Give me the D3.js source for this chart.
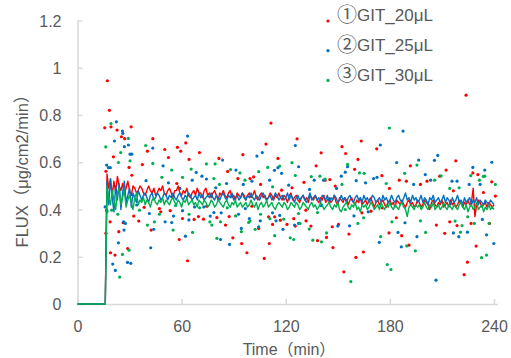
<!DOCTYPE html>
<html>
<head>
<meta charset="utf-8">
<script src="https://cdn.jsdelivr.net/npm/d3@7"></script>
<style>
  body { margin: 0; background: #fff; }
  svg { font-family: "Liberation Sans", Arial, "Noto Sans CJK JP", sans-serif; }
</style>
</head>
<body>
<div id="chart"></div>
<script>
// series names and colours
var seriesMarks = ["①", "②", "③"];
var seriesNames = ["GIT_20μL", "GIT_25μL", "GIT_30μL"];
var seriesColors = ["#ff0000", "#0070c0", "#00b050"];

var xTicks = [0, 60, 120, 180, 240];
var yTicks = [0, 0.2, 0.4, 0.6, 0.8, 1, 1.2];
var yTickLabels = ["0", "0.2", "0.4", "0.6", "0.8", "1", "1.2"];

// line data: one value per minute, t = 17 .. 240 (0 before that)
var lineStart = 17;
var redLine = [
  .55,.49,.53,.46,.52,.47,.54,.50,.48,.51, .47,.49,.52,.48,.46,.50,.49,.47,.48,.50,
  .49,.47,.46,.48,.50,.48,.47,.49,.46,.47, .49,.48,.50,.47,.46,.48,.49,.47,.45,.48,
  .48,.50,.47,.46,.48,.47,.49,.46,.45,.47, .48,.46,.49,.47,.47,.45,.48,.49,.46,.47,
  .45,.47,.48,.46,.44,.47,.46,.48,.46,.45, .47,.48,.45,.46,.44,.47,.46,.45,.47,.46,
  .44,.46,.47,.45,.46,.48,.45,.44,.46,.47, .45,.46,.44,.45,.47,.46,.44,.46,.45,.47,
  .45,.44,.46,.45,.43,.46,.47,.44,.45,.46, .44,.43,.45,.46,.44,.45,.43,.46,.45,.44,
  .46,.44,.43,.45,.44,.46,.43,.44,.45,.43, .44,.46,.43,.42,.45,.44,.43,.45,.44,.42,
  .44,.45,.43,.42,.44,.43,.45,.42,.43,.44, .42,.44,.45,.43,.41,.43,.44,.42,.43,.44,
  .42,.41,.43,.44,.42,.43,.41,.44,.43,.42, .44,.42,.41,.43,.44,.42,.43,.41,.42,.44,
  .43,.41,.42,.44,.43,.42,.40,.43,.44,.42, .41,.43,.42,.44,.41,.42,.43,.41,.44,.42,
  .43,.41,.42,.44,.43,.41,.43,.42,.44,.42, .43,.49,.37,.42,.44,.43,.41,.42,.43,.41,
  .43,.42,.41,.42
];
var blueLine = [
  .52,.42,.53,.45,.39,.50,.44,.51,.40,.47, .52,.43,.46,.49,.41,.47,.45,.43,.48,.46,
  .44,.46,.47,.45,.43,.46,.47,.44,.45,.47, .46,.44,.45,.47,.46,.44,.46,.45,.47,.45,
  .44,.46,.47,.45,.44,.46,.45,.47,.46,.44, .45,.46,.44,.47,.45,.46,.44,.45,.46,.45,
  .47,.45,.44,.46,.45,.44,.46,.47,.45,.44, .46,.45,.47,.44,.45,.46,.44,.45,.47,.45,
  .44,.46,.45,.47,.45,.44,.46,.45,.44,.46, .47,.45,.44,.45,.46,.44,.45,.47,.46,.44,
  .45,.46,.44,.45,.47,.44,.46,.45,.43,.45, .46,.44,.45,.46,.44,.43,.45,.47,.44,.45,
  .46,.44,.45,.43,.46,.45,.44,.46,.43,.45, .44,.46,.45,.43,.44,.46,.44,.45,.43,.45,
  .46,.44,.43,.45,.46,.44,.45,.43,.46,.44, .45,.43,.44,.46,.45,.43,.44,.45,.43,.46,
  .44,.45,.43,.44,.46,.44,.43,.45,.46,.44, .43,.45,.47,.44,.45,.43,.46,.44,.45,.43,
  .44,.46,.43,.45,.44,.42,.45,.44,.46,.43, .44,.45,.43,.44,.46,.43,.45,.44,.42,.45,
  .43,.44,.46,.43,.44,.42,.45,.43,.44,.45, .42,.44,.43,.45,.42,.44,.43,.42,.44,.43,
  .42,.44,.43,.42
];
var greenLine = [
  .50,.45,.42,.48,.44,.40,.47,.49,.42,.45, .48,.41,.44,.46,.43,.40,.45,.47,.42,.44,
  .43,.45,.42,.44,.43,.41,.44,.45,.43,.42, .44,.43,.45,.42,.44,.43,.42,.44,.45,.43,
  .42,.44,.43,.41,.44,.43,.45,.42,.43,.44, .42,.43,.41,.44,.43,.42,.44,.43,.41,.42,
  .44,.43,.41,.42,.44,.43,.42,.41,.43,.44, .42,.41,.43,.42,.44,.41,.42,.43,.41,.42,
  .43,.41,.42,.44,.42,.41,.43,.40,.42,.43, .41,.42,.44,.41,.42,.43,.41,.40,.42,.43,
  .42,.41,.43,.42,.40,.41,.43,.42,.41,.43, .42,.40,.41,.43,.42,.41,.40,.42,.43,.41,
  .42,.40,.41,.43,.42,.40,.41,.42,.43,.41, .40,.42,.41,.43,.40,.39,.41,.42,.43,.41,
  .40,.42,.41,.43,.40,.41,.39,.42,.41,.42, .40,.41,.43,.42,.40,.41,.42,.40,.43,.41,
  .40,.42,.41,.43,.41,.40,.42,.41,.40,.42, .43,.41,.40,.37,.41,.42,.41,.40,.42,.41,
  .42,.40,.41,.43,.41,.40,.42,.41,.43,.40, .41,.42,.40,.41,.43,.41,.40,.42,.41,.40,
  .42,.41,.40,.42,.43,.41,.40,.42,.39,.41, .42,.40,.41,.43,.40,.41,.42,.39,.41,.40,
  .42,.40,.41,.40
];

// scatter points [time, flux]
var redDots = [
  [15.7,.746],[16.4,.562],[16.4,.30],[17.2,.945],[18.4,.82],[18.8,.348],[19,.217],[19.3,.75],
  [20.7,.623],[21.6,.207],[22.8,.736],[23.8,.306],[25.3,.708],[26.3,.344],[27.2,.70],[28.9,.235],
  [29.7,.578],[30.9,.75],[31.3,.545],[32.4,.372],[35.3,.351],[37.4,.59],[38.4,.409],[40.3,.647],
  [42.4,.313],[43.4,.70],[47.2,.404],[48,.39],[50.3,.654],[52.4,.62],[53.4,.395],[57.2,.51],
  [57.6,.663],[58.6,.273],[59.5,.647],[60.5,.362],[62.4,.682],[63.4,.183],[64.3,.612],[67.2,.358],
  [69.7,.37],[70.3,.641],[72.6,.359],[74.5,.414],[80.3,.366],[81.5,.616],[85.3,.334],[86.5,.561],
  [87.4,.37],[89.5,.28],[92.4,.531],[94.6,.256],[95.3,.632],[97.6,.217],[99.4,.531],[100.5,.414],
  [101.5,.538],[104.4,.32],[105.5,.506],[107.6,.193],[108.6,.677],[110.1,.369],[110.5,.256],[111.5,.766],
  [112.4,.337],[113.6,.369],[115.5,.616],[116.9,.355],[117.6,.482],[120.7,.337],[123.6,.492],[124.6,.361],
  [125.5,.33],[126.5,.699],[130.5,.515],[131.6,.397],[131.7,.352],[134.5,.33],[137.5,.585],[138.3,.268],
  [140.4,.64],[142.7,.524],[143.5,.282],[145.4,.527],[146.8,.327],[147.2,.239],[148.5,.499],[150.4,.337],
  [152.4,.666],[153.5,.136],[154.5,.637],[156.4,.296],[159.7,.57],[160.4,.197],[161.6,.612],[163.5,.69],
  [163.9,.386],[164.7,.22],[169.1,.393],[172.4,.657],[175.4,.543],[175.6,.407],[179.5,.301],[179.7,.489],
  [183.7,.365],[185.4,.524],[186.8,.289],[189.5,.52],[191,.249],[191.8,.585],[197.6,.506],[201.4,.52],
  [206.8,.334],[208.7,.541],[211.6,.299],[212.4,.567],[214.5,.348],[216.6,.479],[218,.606],[218.7,.332],
  [222.8,.124],[223.9,.884],[224.7,.177],[226.8,.341],[227.8,.555],[229.7,.245],[230.7,.548],[233.9,.472],
  [237.4,.341],[238.7,.517],[240.8,.457]
];
var blueDots = [
  [15.9,.411],[16.8,.397],[16.8,.588],[17.8,.577],[18.9,.577],[20.3,.169],[21.3,.69],[21.8,.142],
  [22.4,.771],[23.6,.259],[25.9,.732],[26.1,.722],[26.6,.348],[26.8,.313],[27,.666],[27.6,.341],
  [28.8,.176],[29.3,.673],[30.3,.634],[30.7,.172],[31.3,.634],[34.1,.419],[39.5,.522],[41.4,.383],
  [42.2,.238],[43.4,.66],[43.9,.316],[49.3,.585],[50.5,.348],[52.4,.513],[54.3,.345],[55.3,.372],
  [59,.489],[60.5,.395],[62.2,.287],[63.4,.711],[64.2,.356],[66.1,.524],[67.4,.411],[68.4,.557],
  [71.7,.541],[72.8,.411],[74.3,.529],[76.5,.372],[78.6,.387],[79.7,.492],[82.4,.273],[82.8,.386],
  [83.6,.609],[85.9,.51],[87.6,.252],[91.3,.567],[92.8,.38],[94.4,.32],[95.5,.506],[96.7,.404],
  [99,.362],[100.5,.52],[103.4,.626],[104.4,.327],[105.3,.352],[106.5,.641],[110.7,.524],[112.4,.386],
  [113.5,.566],[114.4,.352],[115.5,.577],[116.5,.375],[117.6,.553],[118.4,.316],[121.7,.503],[125.1,.334],
  [125.5,.671],[127.4,.581],[127.4,.341],[133.7,.485],[136.4,.524],[140.4,.416],[141.8,.524],[149.3,.489],
  [150,.33],[152,.541],[154.3,.558],[155.6,.581],[156.8,.331],[159.3,.373],[160.6,.522],[166,.513],
  [167.5,.39],[170.6,.531],[172.6,.536],[173.9,.261],[174.5,.673],[183.9,.599],[184.7,.303],[186.6,.242],
  [187.6,.732],[188.7,.344],[193.7,.506],[195.6,.285],[196.6,.609],[200.4,.548],[203.5,.524],[205.7,.608],
  [206.6,.101],[207.6,.629],[215.8,.52],[216.6,.301],[218.7,.52],[219.7,.285],[224.7,.304],[225.7,.506],
  [227.8,.578],[232,.506],[233.3,.358],[234.7,.567],[235.7,.293],[238.7,.6],[239.9,.256]
];
var greenDots = [
  [16.3,.665],[17,.39],[19.3,.764],[19.7,.397],[23.2,.38],[23.6,.599],[24.3,.114],[24.9,.641],
  [25.9,.21],[29.3,.701],[29.7,.228],[30.3,.606],[35.7,.397],[39.3,.671],[40.3,.334],[43.4,.595],
  [44.3,.348],[47.2,.38],[48.6,.536],[54.3,.567],[55.1,.313],[56.5,.417],[60.5,.536],[64.3,.38],
  [65.5,.571],[66.3,.303],[70.3,.407],[74.3,.593],[76.3,.348],[77.4,.334],[78.6,.531],[79.3,.593],
  [80.3,.278],[81.8,.506],[82.4,.348],[86.3,.407],[88.2,.569],[91.1,.373],[93.6,.555],[94.4,.306],
  [96.5,.524],[98.6,.345],[99.4,.351],[102.4,.316],[104.4,.56],[105.5,.38],[109.6,.578],[110.9,.361],
  [112.4,.496],[113.6,.289],[116.5,.584],[118.8,.359],[122.6,.28],[123.6,.598],[124.6,.273],[125.5,.544],
  [127.4,.383],[128.2,.341],[133.5,.317],[134.7,.539],[135.6,.27],[138.3,.387],[139.7,.541],[140.6,.263],
  [142.7,.529],[143.5,.301],[152.4,.506],[154.3,.4],[155.6,.591],[157.5,.095],[161.6,.341],[162.5,.555],
  [164.9,.365],[165.2,.553],[174.7,.285],[177.9,.51],[178.5,.167],[179.7,.745],[180.6,.146],[181.2,.348],
  [188.5,.553],[189.7,.246],[194.7,.225],[195.6,.588],[197.6,.352],[200.6,.303],[205.8,.524],[209.5,.542],
  [214.5,.489],[217.6,.351],[219.9,.492],[220.7,.304],[221.6,.332],[224.9,.369],[226.6,.543],[228.7,.341],
  [231.6,.524],[232.8,.196],[233.8,.54],[234.7,.541],[235.7,.207],[237.2,.341],[240.8,.506]
];

var width = 511, height = 358;
var axisColor = "#d9d9d9", textColor = "#595959";

var svg = d3.select('#chart').append('svg')
  .attr('width', width)
  .attr('height', height);

var x = d3.scaleLinear().domain([0, 240]).range([77.5, 494]);
var y = d3.scaleLinear().domain([0, 1.2]).range([304, 20.5]);

// turn a line array into points, with the flat zero part before it
function toPoints(vals) {
  var pts = [];
  for (var t = 0; t < lineStart; t++) pts.push([t, 0]);
  vals.forEach(function (v, i) { pts.push([lineStart + i, v]); });
  return pts;
}

var lines = [redLine, blueLine, greenLine].map(toPoints);
var dots = [redDots, blueDots, greenDots];

// axes
var xAxis = svg.append('g')
  .attr('transform', 'translate(0,304)')
  .call(d3.axisBottom(x).tickValues(xTicks).tickSizeInner(-5).tickSizeOuter(0).tickPadding(17));
xAxis.select('.domain').attr('d', 'M77.5,0.5H498');

var yAxis = svg.append('g')
  .attr('transform', 'translate(77.5,0)')
  .call(d3.axisLeft(y).tickValues(yTicks).tickSizeInner(-5).tickSizeOuter(0).tickPadding(16)
    .tickFormat(function (d, i) { return yTickLabels[i]; }));

[xAxis, yAxis].forEach(function (g) {
  g.selectAll('.domain').attr('stroke', axisColor).attr('stroke-width', 1.5);
  g.selectAll('.tick line').attr('stroke', axisColor).attr('stroke-width', 1.5);
  g.selectAll('.tick text').attr('fill', textColor).style('font-size', '16px');
});
yAxis.selectAll('.tick text').attr('dy', '0.35em');

// scatter points
dots.forEach(function (arr, i) {
  svg.append('g').selectAll('circle')
    .data(arr)
    .enter()
    .append('circle')
    .attr('cx', function (d) { return x(d[0]); })
    .attr('cy', function (d) { return y(d[1]); })
    .attr('r', 1.6)
    .attr('fill', seriesColors[i]);
});

// lines
var lineGen = d3.line()
  .x(function (d) { return x(d[0]); })
  .y(function (d) { return y(d[1]); });

lines.forEach(function (pts, i) {
  svg.append('path')
    .datum(pts)
    .attr('d', lineGen)
    .attr('fill', 'none')
    .attr('stroke', seriesColors[i])
    .attr('stroke-width', 1.4)
    .attr('stroke-linejoin', 'round');
});

// axis titles
svg.append('text')
  .attr('transform', 'translate(22,167) rotate(-90)')
  .attr('text-anchor', 'middle')
  .attr('dy', '0.35em')
  .style('font-size', '16.5px')
  .attr('fill', textColor)
  .text('FLUX（μg/cm2/min）');

svg.append('text')
  .attr('x', 289)
  .attr('y', 355)
  .attr('text-anchor', 'middle')
  .style('font-size', '16px')
  .attr('fill', textColor)
  .text('Time（min）');

// legend
var legend = svg.selectAll('.legend')
  .data(seriesNames)
  .enter()
  .append('g')
  .attr('class', 'legend')
  .attr('transform', function (d, i) { return 'translate(328,' + (21 + i * 29.7) + ')'; });

legend.append('circle')
  .attr('r', 1.6)
  .attr('fill', function (d, i) { return seriesColors[i]; });

var legendText = legend.append('text')
  .attr('x', 9)
  .attr('dy', '0.35em')
  .style('font-size', '17px')
  .attr('fill', textColor);
legendText.append('tspan')
  .style('font-family', '"Noto Sans CJK JP", sans-serif')
  .style('font-size', '20px')
  .attr('dy', '0.05em')
  .text(function (d, i) { return seriesMarks[i]; });
legendText.append('tspan')
  .attr('dy', '-0.05em')
  .text(function (d) { return d; });
</script>
</body>
</html>
